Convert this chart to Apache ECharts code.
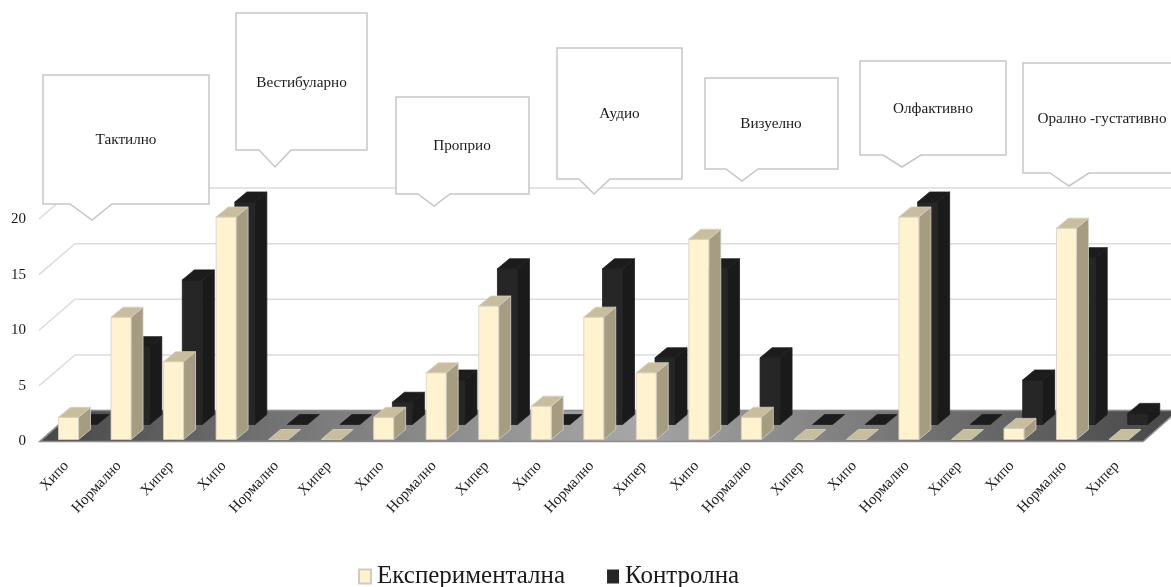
<!DOCTYPE html>
<html><head><meta charset="utf-8">
<style>html,body{margin:0;padding:0;background:#fff}#c{width:1171px;height:587px}</style>
<script src="https://cdn.jsdelivr.net/npm/echarts@6/dist/echarts.min.js"></script>
</head><body><div id="c"></div>
<script>
const categories = ['Хипо','Нормално','Хипер','Хипо','Нормално','Хипер','Хипо','Нормално','Хипер','Хипо','Нормално','Хипер','Хипо','Нормално','Хипер','Хипо','Нормално','Хипер','Хипо','Нормално','Хипер'];
const experimental = [2,11,7,20,0,0,2,6,12,3,11,6,18,2,0,0,20,0,1,19,0];
const control = [0,7,13,20,0,0,2,4,14,0,14,6,14,6,0,0,20,0,4,15,1];
const yTicks = [0,5,10,15,20];
const senseNames = ['Тактилно','Вестибуларно','Проприо','Аудио','Визуелно','Олфактивно','Орално -густативно'];
const seriesNames = ['Експериментална','Контролна'];

const FONT = '"Liberation Serif","Times New Roman",serif';
const DEPTH_X = 35, DEPTH_Y = 31;
const BAR_W = 20, SIDE_X = 12, SIDE_Y = 10;

function bar3d(colors, dx, lift) {
  return function (params, api) {
    const i = api.value(0), v = api.value(1);
    const top = api.coord([i, v]), base = api.coord([i, 0]);
    const x0 = top[0] + dx, x1 = x0 + BAR_W;
    const yt = top[1] - lift, yb = base[1] - lift;
    const stroke = colors.edge;
    const kids = [];
    if (v > 0) {
      kids.push({type:'polygon',shape:{points:[[x1,yt],[x1+SIDE_X,yt-SIDE_Y],[x1+SIDE_X,yb-SIDE_Y],[x1,yb]]},style:{fill:colors.side,stroke:stroke,lineWidth:0.8}});
      kids.push({type:'rect',shape:{x:x0,y:yt,width:BAR_W,height:yb-yt},style:{fill:colors.front,stroke:stroke,lineWidth:0.8}});
    }
    kids.push({type:'polygon',shape:{points:[[x0,yt],[x1,yt],[x1+SIDE_X,yt-SIDE_Y],[x0+SIDE_X,yt-SIDE_Y]]},style:{fill:colors.top,stroke:stroke,lineWidth:0.8}});
    return {type:'group',children:kids};
  };
}

function floorItem(params, api) {
  const w = api.size([1,0])[0];
  const a = api.coord([0,0]), b = api.coord([categories.length-1,0]);
  const l = a[0]-w/2, r = b[0]+w/2, y = a[1];
  return {type:'polygon',shape:{points:[[l,y],[r,y],[r+DEPTH_X,y-DEPTH_Y],[l+DEPTH_X,y-DEPTH_Y]]},
    style:{stroke:'#8c8c8c',lineWidth:1.6,fill:new echarts.graphic.LinearGradient(0,0.6,1,0.4,[
      {offset:0,color:'#474747'},{offset:0.25,color:'#7c7c7c'},{offset:0.52,color:'#a6a6a6'},{offset:0.75,color:'#777777'},{offset:1,color:'#474747'}])}};
}

function gridItem(params, api) {
  const w = api.size([1,0])[0];
  const p = api.coord([0, api.value(0)]);
  const l = p[0]-w/2-1, y = p[1];
  return {type:'polyline',shape:{points:[[l,y],[l+DEPTH_X+1,y-DEPTH_Y],[1200,y-DEPTH_Y]]},
    style:{fill:'none',stroke:'#dcdcdc',lineWidth:1.5}};
}

const boxes = [
  [43,75,209,204,70,92,220,112,126,140],
  [236,13,367,150,259,275,167,291,301.5,83],
  [396,97,529,194,418,434,206,450,462,146],
  [557,48,682,179,579,594,194,610,619.5,114],
  [705,78,838,169,726,742,181,758,771,124],
  [860,61,1006,155,883,902,167,921,933,109],
  [1023,63,1180,173,1050,1069,186,1089,1102,119]
];
const callouts = [];
boxes.forEach((b,k)=>{
  callouts.push({type:'polygon',z:20,shape:{points:[[b[0],b[1]],[b[2],b[1]],[b[2],b[3]],[b[7],b[3]],[b[5],b[6]],[b[4],b[3]],[b[0],b[3]]]},
    style:{fill:'#ffffff',stroke:'#c6c6c6',lineWidth:1.5}});
  callouts.push({type:'text',z:21,x:b[8],y:b[9],style:{text:senseNames[k],font:'15.2px '+FONT,fill:'#1a1a1a',textAlign:'center',textVerticalAlign:'middle'}});
});

const chart = echarts.init(document.getElementById('c'));
chart.setOption({
  animation:false,
  backgroundColor:'#ffffff',
  grid:{left:40,top:219,width:1103,height:222.5,containLabel:false},
  xAxis:{type:'category',data:categories,axisLine:{show:false},axisTick:{show:false},splitLine:{show:false},
    axisLabel:{interval:0,rotate:47,margin:22,fontFamily:FONT,fontSize:15,color:'#1a1a1a'}},
  yAxis:{type:'value',min:0,max:20,interval:5,axisLine:{show:false},axisTick:{show:false},splitLine:{show:false},
    axisLabel:{margin:14,fontFamily:FONT,fontSize:15,color:'#1a1a1a'}},
  legend:{data:seriesNames,left:353,top:559,icon:'rect',itemWidth:12,itemHeight:14,itemGap:42,
    textStyle:{fontFamily:FONT,fontSize:25,color:'#1a1a1a',padding:[0,0,0,1]}},
  graphic:{elements:callouts},
  series:[
    {type:'custom',name:'grid',silent:true,z:1,clip:false,data:yTicks.map(t=>[t]),renderItem:gridItem},
    {type:'custom',name:'floor',silent:true,z:2,clip:false,data:[[0]],renderItem:floorItem},
    {type:'custom',name:seriesNames[1],z:3,clip:false,itemStyle:{color:'#262626',borderColor:'#262626'},
      data:control.map((v,i)=>[i,v]),encode:{x:0,y:1},
      renderItem:bar3d({front:'#262626',side:'#1a1a1a',top:'#1c1c1c',edge:'#1f1f1f'},11,17)},
    {type:'custom',name:seriesNames[0],z:4,clip:false,itemStyle:{color:'#fff2cc',borderColor:'#d0cdc0',borderWidth:1},
      data:experimental.map((v,i)=>[i,v]),encode:{x:0,y:1},
      renderItem:bar3d({front:'#fff2cf',side:'#a59c81',top:'#c8bd9c',edge:'#d3d0c6'},-7.75,2)}
  ]
});
</script></body></html>
